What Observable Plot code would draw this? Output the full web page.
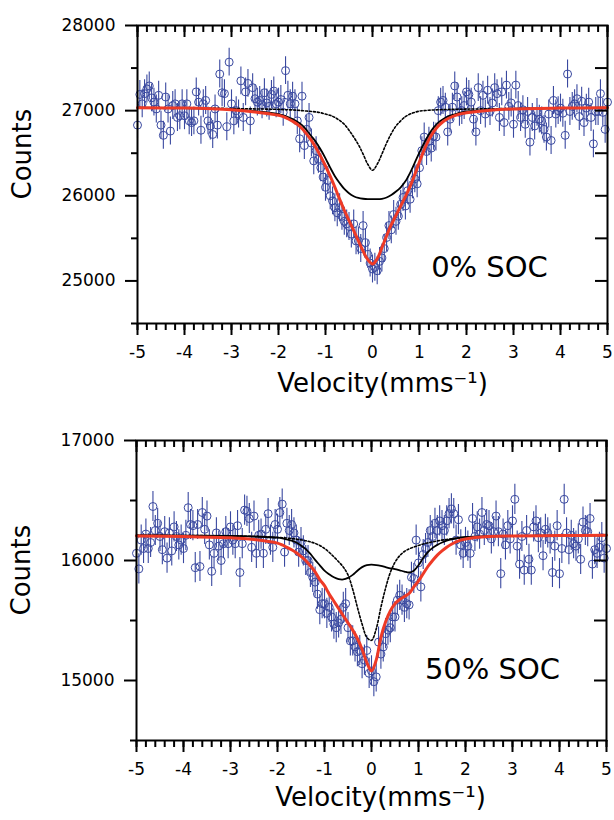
<!DOCTYPE html>
<html><head><meta charset="utf-8">
<script src="https://cdn.jsdelivr.net/npm/d3@7"></script>
<script src="https://cdn.jsdelivr.net/npm/@observablehq/plot@0.6"></script>
<style>
body{margin:0;background:#fff;}
#chart svg{display:block;}
</style></head><body><div id="chart"></div>
<script>
// velocity channels (mm/s): evenly spaced from -5 to 5
const velocityStart = -5, velocityStep = 0.05, channelCount = 201;

// measured counts, 0% SOC
const countsTop = [
26830,27190,27080,27200,27255,27290,27150,27100,27020,27180,26830,26710,27160,27020,26760,27060,27080,26920,26940,27080,
26940,27080,26880,26860,26880,27220,27100,26770,27080,27120,26880,26820,26720,27020,26830,27430,27210,27200,26810,27570,
27080,26880,27000,26960,27350,26920,27220,27320,26880,27270,27140,27100,27120,27070,27210,27090,27050,27190,27230,27080,
27100,27130,26980,27470,27180,27080,27170,27080,26880,26670,27170,26590,26780,26920,26620,26410,26530,26430,26330,26220,
26100,26180,26000,25940,25860,25800,25860,25760,25700,25670,25640,25550,25670,25470,25470,25380,25650,25450,25310,25210,
25140,25160,25120,25230,25270,25380,25510,25650,25600,25780,25700,25760,25900,25980,25880,26060,25960,26130,26200,26140,
26330,26530,26690,26520,26640,26560,26700,26690,27000,27100,27120,27040,26750,26900,27040,27290,27160,26980,27000,27060,
27220,27190,27100,26900,26750,27270,27000,27180,26960,27240,26990,27090,27270,27200,26920,27220,26860,27300,27050,27090,
26840,27300,27060,26920,27010,26840,26990,26630,26920,26820,26980,26900,26880,26780,26690,26960,26650,27120,26960,27000,
27030,26970,26710,27430,26990,27050,27080,27140,26930,27110,26860,27030,27100,26920,26610,26990,26990,27200,26980,26780,27100];

// measured counts, 50% SOC
const countsBottom = [
16060,15930,16170,16100,16220,16100,16150,16450,16250,16310,16200,16090,16240,16020,16230,16080,16280,16200,16130,16170,
16100,16210,16440,16300,16290,15940,16300,15950,16400,16260,16370,16130,15910,16060,16230,16120,16000,16140,16240,16140,
16280,16170,16140,16290,15900,16140,16420,16410,16350,16110,16370,16060,16210,16220,16060,16260,16390,16170,16110,16300,
16260,16400,16470,16070,16310,16250,16300,16230,16170,16070,16150,16080,16000,16000,15900,15860,15820,15720,15590,15640,
15640,15560,15610,15530,15470,15440,15480,15510,15610,15640,15440,15330,15330,15280,15240,15250,15140,15170,15250,15060,
15080,14990,15030,15320,15220,15280,15390,15420,15440,15530,15530,15670,15710,15670,15610,15640,15630,15860,15850,16170,
15980,15780,16050,16100,16150,16250,16200,16310,16250,16330,16290,16250,16330,16390,16430,16390,16170,16340,16130,16060,
16150,16120,16060,16350,16200,16280,16220,16400,16250,16300,16290,16180,16240,16370,16240,15890,16220,16130,16290,16180,
16330,16510,16120,15970,16200,15920,16250,16010,15920,16280,16330,16190,16230,16040,16260,16230,16180,15900,16120,16290,
15890,16100,16510,16230,16090,16210,16140,16120,16180,16010,16320,16250,16240,16350,15970,16090,16060,16110,16190,16020,16100];

// statistical error bars (counts)
const errTop = 164;
const errBottom = 126;

// fitted curves, sampled velocities
const fitV = [-5,-4,-3,-2.5,-2,-1.9,-1.8,-1.7,-1.6,-1.5,-1.4,-1.3,-1.2,-1.1,-1,-0.9,-0.8,-0.7,-0.6,-0.5,-0.4,-0.3,-0.2,-0.1,0,
0.1,0.2,0.3,0.4,0.5,0.6,0.7,0.8,0.9,1,1.1,1.2,1.3,1.4,1.5,1.6,1.7,1.8,1.9,2,2.5,3,4,5];

// 0% SOC fits
const topTotal = [27035,27030,27010,26985,26945,26930,26905,26875,26840,26790,26725,26650,26560,26460,26350,26230,26100,25960,25830,25710,25590,25470,25350,25250,25200,
25260,25390,25530,25660,25770,25880,25990,26110,26250,26400,26540,26660,26750,26820,26870,26905,26930,26950,26965,26975,27005,27020,27030,27035];
const topBroad = [27035,27030,27015,26995,26960,26945,26925,26900,26870,26830,26770,26700,26630,26540,26440,26330,26230,26150,26080,26030,25995,25975,25965,25960,25960,
25960,25965,25980,26010,26050,26100,26170,26270,26390,26510,26620,26720,26800,26860,26900,26930,26950,26965,26980,26990,27010,27020,27030,27035];
const topNarrow = [27035,27030,27025,27020,27015,27012,27010,27008,27005,27000,26995,26990,26985,26975,26960,26945,26920,26885,26840,26770,26690,26600,26490,26370,26300,
26370,26490,26620,26730,26820,26880,26930,26960,26980,26995,27000,27005,27008,27010,27012,27014,27015,27016,27017,27018,27022,27025,27030,27035];

// 50% SOC fits
const botTotal = [16205,16200,16190,16175,16145,16130,16110,16090,16065,16035,16000,15955,15905,15840,15790,15720,15660,15600,15540,15480,15420,15350,15260,15150,15080,
15170,15360,15490,15580,15640,15675,15700,15725,15780,15830,15890,15950,16000,16045,16080,16110,16135,16155,16170,16180,16200,16205,16208,16210];
const botBroad = [16210,16208,16205,16200,16190,16185,16175,16165,16150,16125,16095,16055,16005,15960,15915,15885,15860,15845,15842,15855,15880,15915,15945,15962,15965,
15962,15955,15945,15935,15928,15918,15908,15900,15915,15960,16020,16070,16105,16130,16150,16165,16177,16185,16192,16196,16203,16206,16208,16210];
const botNarrow = [16210,16208,16205,16200,16192,16190,16187,16183,16178,16172,16165,16155,16143,16125,16100,16068,16030,15990,15945,15880,15760,15610,15470,15360,15335,
15430,15610,15770,15900,15985,16040,16075,16097,16112,16125,16138,16147,16155,16163,16170,16175,16180,16185,16188,16191,16198,16203,16207,16210];

// axes
const xMajorTicks = [-5,-4,-3,-2,-1,0,1,2,3,4,5];
const xDomain = [-5, 5];
const topYDomain = [24500, 28000];
const topYTicks = [25000, 26000, 27000, 28000];
const topYMinor = [24500, 25500, 26500, 27500];
const topYRight = [25000, 25500, 26000, 26500, 27000, 27500];
const botYDomain = [14500, 17000];
const botYTicks = [15000, 16000, 17000];
const botYMinor = [14500, 15500, 16500];
const botYRight = [15000, 15500, 16000, 16500];
const yTitle = "Counts";
const xTitle = "Velocity(mms\u207B\u00B9)";
const panelLabels = ["0% SOC", "50% SOC"];

const blue = "#3a49a0";
const xMinorTicks = d3.ticks(-5, 5, 50);

function panel(o) {
  const pts = o.counts.map((c, i) => ({v: velocityStart + i * velocityStep, c}));
  const fit = fitV.map((v, i) => ({v, total: o.total[i], broad: o.broad[i], narrow: o.narrow[i]}));
  const iw = 614 - o.ml - o.mr;
  const ih = o.h - o.mt - o.mb;
  return Plot.plot({
    width: 614, height: o.h,
    marginTop: o.mt, marginBottom: o.mb, marginLeft: o.ml, marginRight: o.mr,
    style: {fontFamily: "DejaVu Sans", background: "white", color: "black"},
    x: {domain: xDomain, axis: null},
    y: {domain: o.yDomain, axis: null},
    marks: [
      Plot.ruleX(pts, {x: "v", y1: d => d.c - o.err, y2: d => d.c + o.err, stroke: blue, strokeWidth: 1.1}),
      Plot.dot(pts, {x: "v", y: "c", r: 4, stroke: blue, strokeWidth: 1, fill: "none"}),
      Plot.line(fit, {x: "v", y: "narrow", stroke: "black", strokeWidth: 1.6, strokeDasharray: "2,2", curve: "catmull-rom"}),
      Plot.line(fit, {x: "v", y: "broad", stroke: "black", strokeWidth: 1.8, curve: "catmull-rom"}),
      Plot.line(fit, {x: "v", y: "total", stroke: "#ee3a26", strokeWidth: 3, curve: "catmull-rom"}),
      Plot.frame({stroke: "black", strokeWidth: 2}),
      // bottom axis (outward)
      Plot.axisX(xMajorTicks, {anchor: "bottom", tickSize: 12, tickPadding: 10, strokeWidth: 2, fontSize: 17, label: null, tickFormat: d => String(d)}),
      Plot.tickX(xMinorTicks, {x: d => d, insetTop: ih, insetBottom: -7, stroke: "black", strokeWidth: 2}),
      // top axis (inward)
      Plot.tickX(xMajorTicks, {x: d => d, insetBottom: ih - 12, stroke: "black", strokeWidth: 2}),
      Plot.tickX(xMinorTicks, {x: d => d, insetBottom: ih - 7, stroke: "black", strokeWidth: 2}),
      // left axis (outward)
      Plot.axisY(o.yTicks, {anchor: "left", tickSize: 12, tickPadding: 10, strokeWidth: 2, fontSize: 17, label: null, tickFormat: d => String(d)}),
      Plot.tickY(o.yMinor, {y: d => d, insetLeft: -6, insetRight: iw, stroke: "black", strokeWidth: 2}),
      // right axis (inward)
      Plot.tickY(o.yRight, {y: d => d, insetLeft: iw - 12, stroke: "black", strokeWidth: 2}),
      // titles
      Plot.text([yTitle], {text: d => d, frameAnchor: "left", rotate: -90, dx: -115, dy: 25, fontSize: 26, fill: "black"}),
      Plot.text([xTitle], {text: d => d, frameAnchor: "bottom", dx: o.xdx, dy: o.xdy, fontSize: 26, fill: "black"}),
      Plot.text([o.label], {text: d => d, frameAnchor: "bottom-right", textAnchor: "middle", dx: o.ldx, dy: o.ldy, fontSize: 29, fill: "black"})
    ]
  });
}

const chart = document.getElementById("chart");
chart.append(panel({counts: countsTop, err: errTop, total: topTotal, broad: topBroad, narrow: topNarrow,
  yDomain: topYDomain, yTicks: topYTicks, yMinor: topYMinor, yRight: topYRight, label: panelLabels[0],
  h: 410, mt: 25, mb: 87, ml: 137, mr: 7, xdx: 10, xdy: 68, ldx: -118, ldy: -47}));
chart.append(panel({counts: countsBottom, err: errBottom, total: botTotal, broad: botBroad, narrow: botNarrow,
  yDomain: botYDomain, yTicks: botYTicks, yMinor: botYMinor, yRight: botYRight, label: panelLabels[1],
  h: 410, mt: 30, mb: 80, ml: 136, mr: 8, xdx: 9, xdy: 65, ldx: -114, ldy: -62}));
</script>
</body></html>
